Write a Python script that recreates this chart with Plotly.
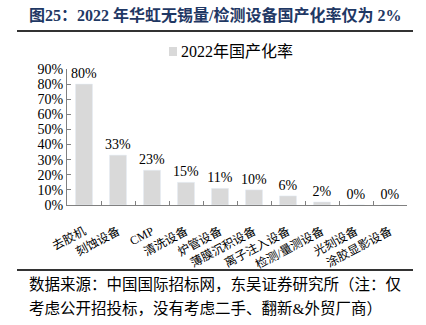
import plotly.graph_objects as go

categories = ["去胶机", "刻蚀设备", "CMP", "清洗设备", "炉管设备", "薄膜沉积设备",
              "离子注入设备", "检测/量测设备", "光刻设备", "涂胶显影设备"]
values = [0.80, 0.33, 0.23, 0.15, 0.11, 0.10, 0.06, 0.02, 0.0, 0.0]
labels = ["80%", "33%", "23%", "15%", "11%", "10%", "6%", "2%", "0%", "0%"]
ytick_vals = [0, 0.1, 0.2, 0.3, 0.4, 0.5, 0.6, 0.7, 0.8, 0.9]
ytick_text = ["0%", "10%", "20%", "30%", "40%", "50%", "60%", "70%", "80%", "90%"]
series_name = "2022年国产化率"

serif = "Liberation Serif, Noto Sans CJK SC, serif"

W, H = 426, 325
L, R, T, B = 67, 19, 69, 120
pw, ph = W - L - R, H - T - B

def xp(px):
    return (px - L) / pw

def yp(py):
    return (H - B - py) / ph

fig = go.Figure()
fig.add_trace(go.Bar(
    x=categories, y=values, name=series_name,
    marker_color="#D9D9D9", width=0.5,
    text=labels, textposition="outside", cliponaxis=False, constraintext="none",
    textfont=dict(family=serif, size=14, color="#000000"),
    showlegend=False,
))

fig.update_layout(
    width=W, height=H,
    margin=dict(l=L, r=R, t=T, b=B),
    paper_bgcolor="white", plot_bgcolor="white",
    bargap=0.5,
)
fig.update_xaxes(
    showline=True, linecolor="#808080", linewidth=1,
    ticks="inside", ticklen=4, tickcolor="#808080", tickson="boundaries",
    tickangle=-28, tickfont=dict(family=serif, size=12, color="#000000"),
    ticklabelstandoff=14,
    showgrid=False,
)
fig.update_yaxes(
    range=[0, 0.9], tickvals=ytick_vals, ticktext=ytick_text,
    showline=True, linecolor="#808080", linewidth=1,
    ticks="inside", ticklen=4, tickcolor="#808080",
    tickfont=dict(family=serif, size=14, color="#000000"),
    showgrid=False, zeroline=False,
)

# legend (drawn manually for exact placement)
fig.add_shape(type="rect", xref="paper", yref="paper",
              x0=xp(169), x1=xp(177), y0=yp(47), y1=yp(56),
              fillcolor="#D9D9D9", line=dict(width=0))
fig.add_annotation(
    text=series_name, xref="paper", yref="paper", x=xp(179), y=yp(51),
    xanchor="left", yanchor="middle", showarrow=False,
    font=dict(family=serif, size=16, color="#000000"),
)

fig.add_annotation(
    text="<b>图25：2022 年华虹无锡量/检测设备国产化率仅为 2%</b>",
    xref="paper", yref="paper", x=xp(27), y=yp(15), xanchor="left", yanchor="middle",
    showarrow=False, font=dict(family=serif, size=16, color="#1F3864"),
)
fig.add_shape(type="line", xref="paper", yref="paper",
              x0=xp(17), x1=xp(413), y0=yp(31), y1=yp(31),
              line=dict(color="#333333", width=2))
fig.add_shape(type="line", xref="paper", yref="paper",
              x0=xp(17), x1=xp(413), y0=yp(270), y1=yp(270),
              line=dict(color="#333333", width=2))
fig.add_annotation(
    text="数据来源：中国国际招标网，东吴证券研究所（注：仅",
    xref="paper", yref="paper", x=xp(27), y=yp(284), xanchor="left", yanchor="middle",
    showarrow=False, font=dict(family=serif, size=15.5, color="#000000"),
)
fig.add_annotation(
    text="考虑公开招投标，没有考虑二手、翻新&外贸厂商）",
    xref="paper", yref="paper", x=xp(27), y=yp(308), xanchor="left", yanchor="middle",
    showarrow=False, font=dict(family=serif, size=15.5, color="#000000"),
)

fig.write_html("out.html")
